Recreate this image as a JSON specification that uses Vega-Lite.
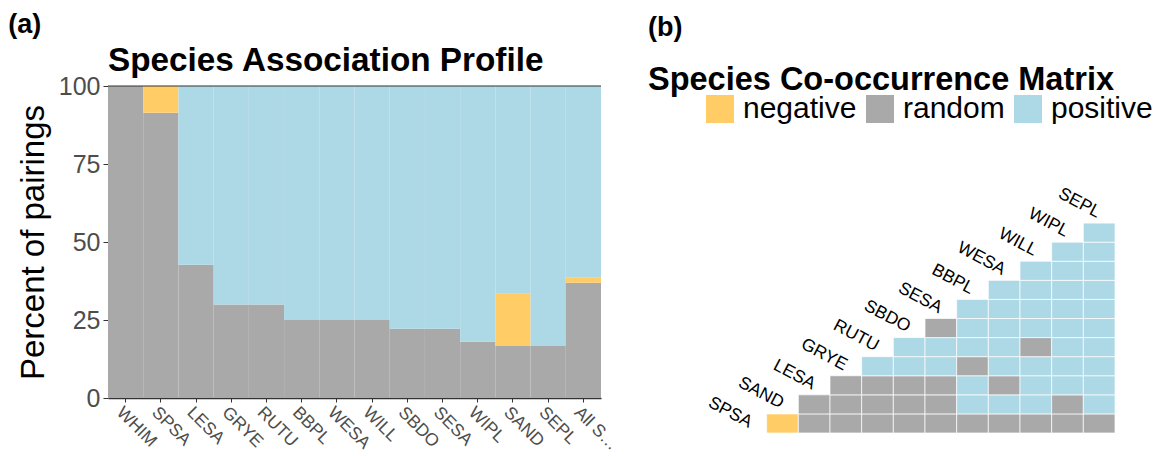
{
  "$schema": "https://vega.github.io/schema/vega-lite/v6.json",
  "background": "white",
  "padding": {"left": 8, "top": 10, "right": 4, "bottom": 0},
  "config": {
    "font": "Liberation Sans",
    "view": {"stroke": null},
    "title": {"color": "black", "fontWeight": "bold"}
  },
  "spacing": 27,
  "resolve": {"scale": {"color": "independent"}, "legend": {"color": "independent"}},
  "hconcat": [
    {
      "title": {"text": "(a)", "anchor": "start", "fontSize": 27, "dx": -9, "offset": 5},
      "resolve": {"scale": {"color": "independent"}, "legend": {"color": "independent"}},
      "vconcat": [
        {
          "width": 493,
          "height": 312,
          "title": {"text": "Species Association Profile", "anchor": "start", "frame": "group", "fontSize": 33.3, "offset": -4},
          "data": {
            "values": [
              {"species": "WHIM", "type": "random", "pct": 100},
              {"species": "SPSA", "type": "random", "pct": 91.4},
              {"species": "SPSA", "type": "negative", "pct": 8.6},
              {"species": "LESA", "type": "random", "pct": 42.7},
              {"species": "LESA", "type": "positive", "pct": 57.3},
              {"species": "GRYE", "type": "random", "pct": 30},
              {"species": "GRYE", "type": "positive", "pct": 70},
              {"species": "RUTU", "type": "random", "pct": 30},
              {"species": "RUTU", "type": "positive", "pct": 70},
              {"species": "BBPL", "type": "random", "pct": 25},
              {"species": "BBPL", "type": "positive", "pct": 75},
              {"species": "WESA", "type": "random", "pct": 25},
              {"species": "WESA", "type": "positive", "pct": 75},
              {"species": "WILL", "type": "random", "pct": 25},
              {"species": "WILL", "type": "positive", "pct": 75},
              {"species": "SBDO", "type": "random", "pct": 22.2},
              {"species": "SBDO", "type": "positive", "pct": 77.8},
              {"species": "SESA", "type": "random", "pct": 22.2},
              {"species": "SESA", "type": "positive", "pct": 77.8},
              {"species": "WIPL", "type": "random", "pct": 18},
              {"species": "WIPL", "type": "positive", "pct": 82},
              {"species": "SAND", "type": "random", "pct": 16.7},
              {"species": "SAND", "type": "negative", "pct": 16.7},
              {"species": "SAND", "type": "positive", "pct": 66.6},
              {"species": "SEPL", "type": "random", "pct": 16.7},
              {"species": "SEPL", "type": "positive", "pct": 83.3},
              {"species": "All Species", "type": "random", "pct": 36.9},
              {"species": "All Species", "type": "negative", "pct": 1.8},
              {"species": "All Species", "type": "positive", "pct": 61.3}
            ]
          },
          "transform": [
            {"calculate": "indexof(['random', 'negative', 'positive'], datum.type)", "as": "stackOrder"}
          ],
          "layer": [
            {
              "mark": {"type": "bar", "strokeWidth": 0},
              "encoding": {
                "x": {
                  "field": "species",
                  "type": "nominal",
                  "sort": ["WHIM", "SPSA", "LESA", "GRYE", "RUTU", "BBPL", "WESA", "WILL", "SBDO", "SESA", "WIPL", "SAND", "SEPL", "All Species"],
                  "scale": {"paddingInner": 0, "paddingOuter": 0},
                  "axis": {
                    "title": null,
                    "labelAngle": 45,
                    "labelAlign": "left",
                    "labelBaseline": "top",
                    "labelFontSize": 17.5,
                    "labelColor": "#4d4d4d",
                    "labelPadding": 1,
                    "labelLimit": 60,
                    "tickColor": "#333333",
                    "tickSize": 4,
                    "domainColor": "#333333",
                    "domainWidth": 1.5
                  }
                },
                "y": {
                  "field": "pct",
                  "type": "quantitative",
                  "stack": "zero",
                  "scale": {"domain": [0, 100], "nice": false},
                  "axis": {
                    "title": "Percent of pairings",
                    "titleFontSize": 33,
                    "titleFontWeight": "normal",
                    "titleColor": "black",
                    "titlePadding": 8,
                    "values": [0, 25, 50, 75, 100],
                    "grid": false,
                    "domain": false,
                    "labelFontSize": 25,
                    "labelColor": "#4d4d4d",
                    "labelPadding": 3,
                    "tickColor": "#333333",
                    "tickSize": 5
                  }
                },
                "color": {
                  "field": "type",
                  "type": "nominal",
                  "scale": {"domain": ["negative", "random", "positive"], "range": ["#FFCC66", "#A9A9A9", "#ADD8E6"]},
                  "legend": null
                },
                "order": {"field": "stackOrder", "type": "quantitative"}
              }
            },
            {
              "data": {"values": [{}]},
              "mark": {"type": "rule", "color": "#333333", "strokeWidth": 1.2},
              "encoding": {"y": {"datum": 100}}
            }
          ]
        }
      ]
    },
    {
      "width": 380,
      "height": 347,
      "title": {
        "text": "(b)",
        "subtitle": "Species Co-occurrence Matrix",
        "anchor": "start",
        "frame": "group",
        "dx": -87,
        "fontSize": 27,
        "subtitleFontSize": 32.5,
        "subtitleFontWeight": "bold",
        "subtitleColor": "black",
        "subtitleFont": "Liberation Sans",
        "subtitlePadding": 22,
        "offset": -11
      },
      "layer": [
        {
          "data": {
            "values": [
              {"species1": "SAND", "species2": "SPSA", "type": "negative"},
              {"species1": "LESA", "species2": "SPSA", "type": "random"},
              {"species1": "GRYE", "species2": "SPSA", "type": "random"},
              {"species1": "RUTU", "species2": "SPSA", "type": "random"},
              {"species1": "SBDO", "species2": "SPSA", "type": "random"},
              {"species1": "SESA", "species2": "SPSA", "type": "random"},
              {"species1": "BBPL", "species2": "SPSA", "type": "random"},
              {"species1": "WESA", "species2": "SPSA", "type": "random"},
              {"species1": "WILL", "species2": "SPSA", "type": "random"},
              {"species1": "WIPL", "species2": "SPSA", "type": "random"},
              {"species1": "SEPL", "species2": "SPSA", "type": "random"},
              {"species1": "LESA", "species2": "SAND", "type": "random"},
              {"species1": "GRYE", "species2": "SAND", "type": "random"},
              {"species1": "RUTU", "species2": "SAND", "type": "random"},
              {"species1": "SBDO", "species2": "SAND", "type": "random"},
              {"species1": "SESA", "species2": "SAND", "type": "random"},
              {"species1": "BBPL", "species2": "SAND", "type": "positive"},
              {"species1": "WESA", "species2": "SAND", "type": "positive"},
              {"species1": "WILL", "species2": "SAND", "type": "positive"},
              {"species1": "WIPL", "species2": "SAND", "type": "random"},
              {"species1": "SEPL", "species2": "SAND", "type": "positive"},
              {"species1": "GRYE", "species2": "LESA", "type": "random"},
              {"species1": "RUTU", "species2": "LESA", "type": "random"},
              {"species1": "SBDO", "species2": "LESA", "type": "random"},
              {"species1": "SESA", "species2": "LESA", "type": "random"},
              {"species1": "BBPL", "species2": "LESA", "type": "positive"},
              {"species1": "WESA", "species2": "LESA", "type": "random"},
              {"species1": "WILL", "species2": "LESA", "type": "positive"},
              {"species1": "WIPL", "species2": "LESA", "type": "positive"},
              {"species1": "SEPL", "species2": "LESA", "type": "positive"},
              {"species1": "RUTU", "species2": "GRYE", "type": "positive"},
              {"species1": "SBDO", "species2": "GRYE", "type": "positive"},
              {"species1": "SESA", "species2": "GRYE", "type": "positive"},
              {"species1": "BBPL", "species2": "GRYE", "type": "random"},
              {"species1": "WESA", "species2": "GRYE", "type": "positive"},
              {"species1": "WILL", "species2": "GRYE", "type": "positive"},
              {"species1": "WIPL", "species2": "GRYE", "type": "positive"},
              {"species1": "SEPL", "species2": "GRYE", "type": "positive"},
              {"species1": "SBDO", "species2": "RUTU", "type": "positive"},
              {"species1": "SESA", "species2": "RUTU", "type": "positive"},
              {"species1": "BBPL", "species2": "RUTU", "type": "positive"},
              {"species1": "WESA", "species2": "RUTU", "type": "positive"},
              {"species1": "WILL", "species2": "RUTU", "type": "random"},
              {"species1": "WIPL", "species2": "RUTU", "type": "positive"},
              {"species1": "SEPL", "species2": "RUTU", "type": "positive"},
              {"species1": "SESA", "species2": "SBDO", "type": "random"},
              {"species1": "BBPL", "species2": "SBDO", "type": "positive"},
              {"species1": "WESA", "species2": "SBDO", "type": "positive"},
              {"species1": "WILL", "species2": "SBDO", "type": "positive"},
              {"species1": "WIPL", "species2": "SBDO", "type": "positive"},
              {"species1": "SEPL", "species2": "SBDO", "type": "positive"},
              {"species1": "BBPL", "species2": "SESA", "type": "positive"},
              {"species1": "WESA", "species2": "SESA", "type": "positive"},
              {"species1": "WILL", "species2": "SESA", "type": "positive"},
              {"species1": "WIPL", "species2": "SESA", "type": "positive"},
              {"species1": "SEPL", "species2": "SESA", "type": "positive"},
              {"species1": "WESA", "species2": "BBPL", "type": "positive"},
              {"species1": "WILL", "species2": "BBPL", "type": "positive"},
              {"species1": "WIPL", "species2": "BBPL", "type": "positive"},
              {"species1": "SEPL", "species2": "BBPL", "type": "positive"},
              {"species1": "WILL", "species2": "WESA", "type": "positive"},
              {"species1": "WIPL", "species2": "WESA", "type": "positive"},
              {"species1": "SEPL", "species2": "WESA", "type": "positive"},
              {"species1": "WIPL", "species2": "WILL", "type": "positive"},
              {"species1": "SEPL", "species2": "WILL", "type": "positive"},
              {"species1": "SEPL", "species2": "WIPL", "type": "positive"}
            ]
          },
          "mark": {"type": "rect", "stroke": "white", "strokeWidth": 1, "strokeOpacity": 0.7},
          "encoding": {
            "x": {
              "field": "species1",
              "type": "nominal",
              "scale": {"domain": ["SPSA", "SAND", "LESA", "GRYE", "RUTU", "SBDO", "SESA", "BBPL", "WESA", "WILL", "WIPL", "SEPL"], "paddingInner": 0, "paddingOuter": 0},
              "axis": null
            },
            "y": {
              "field": "species2",
              "type": "nominal",
              "scale": {"domain": ["SEPL", "WIPL", "WILL", "WESA", "BBPL", "SESA", "SBDO", "RUTU", "GRYE", "LESA", "SAND", "SPSA"], "range": [118, 347], "paddingInner": 0, "paddingOuter": 0},
              "axis": null
            },
            "color": {
              "field": "type",
              "type": "nominal",
              "scale": {"domain": ["negative", "random", "positive"], "range": ["#FFCC66", "#A9A9A9", "#ADD8E6"]},
              "legend": {
                "title": null,
                "orient": "none",
                "legendX": -30,
                "legendY": 8,
                "direction": "horizontal",
                "padding": 0,
                "symbolType": "square",
                "symbolSize": 784,
                "symbolStrokeWidth": 0,
                "labelFontSize": 30,
                "labelColor": "black",
                "labelOffset": 8,
                "columnPadding": 8
              }
            }
          }
        },
        {
          "data": {
            "values": [
              {"species": "SPSA"}, {"species": "SAND"}, {"species": "LESA"}, {"species": "GRYE"},
              {"species": "RUTU"}, {"species": "SBDO"}, {"species": "SESA"}, {"species": "BBPL"},
              {"species": "WESA"}, {"species": "WILL"}, {"species": "WIPL"}, {"species": "SEPL"}
            ]
          },
          "mark": {"type": "text", "align": "right", "baseline": "middle", "angle": 28, "fontSize": 17.5, "color": "black"},
          "encoding": {
            "x": {"field": "species", "type": "nominal"},
            "y": {"field": "species", "type": "nominal"},
            "text": {"field": "species"}
          }
        }
      ]
    }
  ]
}
